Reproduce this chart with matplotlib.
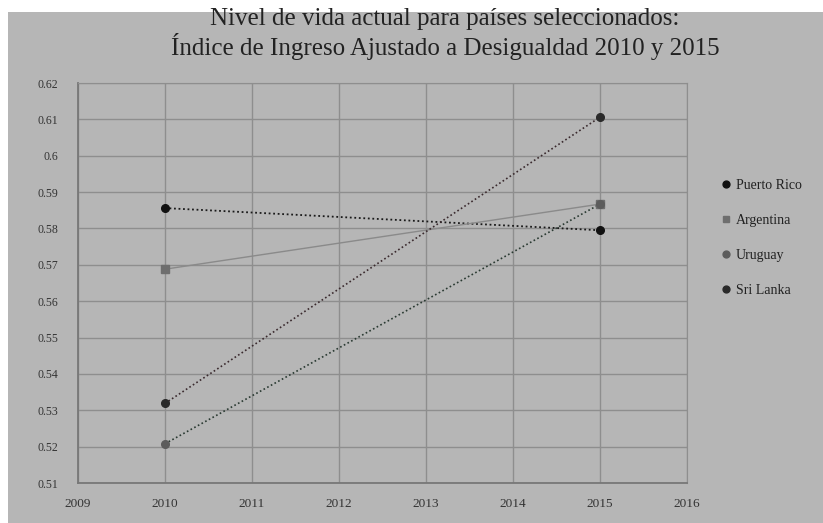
import matplotlib.pyplot as plt
from matplotlib.patches import Rectangle

# data
years = [2010, 2015]
puerto_rico = [0.5856, 0.5795]
argentina = [0.5688, 0.5867]
uruguay = [0.5208, 0.5867]
sri_lanka = [0.5319, 0.6106]

series_names = ["Puerto Rico", "Argentina", "Uruguay", "Sri Lanka"]
x_ticks = [2009, 2010, 2011, 2012, 2013, 2014, 2015, 2016]
y_ticks = [0.51, 0.52, 0.53, 0.54, 0.55, 0.56, 0.57, 0.58, 0.59, 0.60, 0.61, 0.62]
y_labels = ["0.51", "0.52", "0.53", "0.54", "0.55", "0.56", "0.57", "0.58",
            "0.59", "0.6", "0.61", "0.62"]

BG = "#b6b6b6"
GRID = "#8e8e8e"
plt.rcParams['font.family'] = ['Liberation Serif', 'DejaVu Serif']

fig = plt.figure(figsize=(8.23, 5.23), dpi=100, facecolor="white")
# gray page area (scan background)
fig.patches.append(Rectangle((8 / 823, 0), 1 - 8 / 823, 1 - 12 / 523,
                             transform=fig.transFigure, facecolor=BG,
                             edgecolor="none", zorder=-5))

ax = fig.add_axes([78 / 823, 40 / 523, 609 / 823, 400 / 523])
ax.set_facecolor(BG)

styles = [
    (puerto_rico, "#111111", "o", "#1a1a1a", (0, (1, 1.5)), 1.3),
    (argentina, "#6e6e6e", "s", "#8a8a8a", "-", 1.0),
    (uruguay, "#5c5c5c", "o", "#2a3a32", (0, (1, 1.5)), 1.2),
    (sri_lanka, "#2a2a2a", "o", "#3a2a2e", (0, (1, 1.5)), 1.2),
]
for (vals, mcol, mk, lcol, ls, lw), name in zip(styles, series_names):
    ax.plot(years, vals, color=lcol, linestyle=ls, linewidth=lw, zorder=3)
    ax.plot(years, vals, linestyle="none", marker=mk, markersize=5.5,
            color=mcol, label=name, zorder=4)

ax.set_xlim(2009, 2016)
ax.set_ylim(0.51, 0.62)
ax.set_xticks(x_ticks)
ax.set_xticklabels([str(t) for t in x_ticks], fontsize=9.5, color="#333333")
ax.set_yticks(y_ticks)
ax.set_yticklabels(y_labels, fontsize=8.5, color="#333333")
ax.tick_params(axis="x", length=0, pad=11)
ax.tick_params(axis="y", length=0, pad=14)
ax.grid(True, color=GRID, linewidth=1.0)
ax.set_axisbelow(True)
for side in ["top", "right"]:
    ax.spines[side].set_color(GRID)
for side in ["left", "bottom"]:
    ax.spines[side].set_color("#777777")
    ax.spines[side].set_linewidth(1.3)

fig.text(445 / 823, 1 - 34 / 523,
         "Nivel de vida actual para países seleccionados:\n"
         "Índice de Ingreso Ajustado a Desigualdad 2010 y 2015",
         ha="center", va="center", fontsize=18, color="#222222",
         linespacing=1.1)

leg = fig.legend(loc="center left", bbox_to_anchor=(707 / 823, 1 - 238 / 523),
                 frameon=False, fontsize=10, handletextpad=0.2,
                 labelspacing=1.6, handlelength=1.0, markerscale=0.9)
for t in leg.get_texts():
    t.set_color("#222222")

fig.savefig("out.png", dpi=100, facecolor=fig.get_facecolor())
